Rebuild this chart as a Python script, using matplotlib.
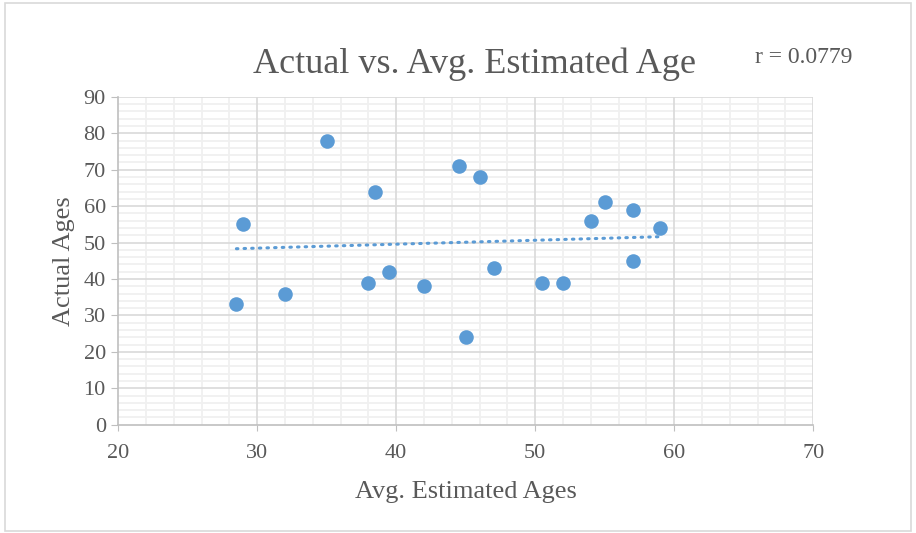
import matplotlib.pyplot as plt
import numpy as np
from matplotlib.ticker import MultipleLocator
from matplotlib.patches import Rectangle

# average estimated age vs. actual age for each person
est_ages = [28.5, 29, 32, 35, 38.5, 38, 39.5, 42, 44.5, 45, 46, 47, 50.5, 52, 54, 55, 57, 57, 59]
actual_ages = [33, 55, 36, 78, 64, 39, 42, 38, 71, 24, 68, 43, 39, 39, 56, 61, 59, 45, 54]

# linear trendline as shown on the chart (ends at min / max estimate)
trend_x = [28.5, 59]
trend_y = [48.3, 51.6]
r_text = "r = 0.0779"

blue = "#5B9BD5"
grey_text = "#595959"

plt.rcParams["font.family"] = ["Liberation Serif", "DejaVu Serif"]

fig = plt.figure(figsize=(9.16, 5.33), dpi=100)
ax = fig.add_axes([0.1291, 0.2032, 0.7587, 0.6152])

# chart border
fig.patches.append(Rectangle((0.005, 0.004), 0.99, 0.99, transform=fig.transFigure,
                             fill=False, edgecolor="#D9D9D9", linewidth=1.2))

ax.scatter(est_ages, actual_ages, s=110, color=blue, zorder=4, linewidths=0)

ax.plot(trend_x, trend_y, color=blue, linewidth=2.2, linestyle=(0, (0.5, 2.0)),
        dash_capstyle="round", zorder=3)

ax.set_xlim(20, 70)
ax.set_ylim(0, 90)
ax.xaxis.set_major_locator(MultipleLocator(10))
ax.xaxis.set_minor_locator(MultipleLocator(2))
ax.yaxis.set_major_locator(MultipleLocator(10))
ax.yaxis.set_minor_locator(MultipleLocator(2))

# light minor grid below, darker major lines drawn on top of it
ax.grid(which="minor", color="#F0F0F0", linewidth=1.3)
ax.set_axisbelow(True)
for xv in ax.get_xticks():
    if 20 < xv <= 70:
        ax.axvline(xv, color="#D9D9D9", linewidth=1.2, zorder=1)
for yv in ax.get_yticks():
    if 0 < yv <= 90:
        ax.axhline(yv, color="#D9D9D9", linewidth=1.2, zorder=1)

for side in ["top", "right"]:
    ax.spines[side].set_visible(False)
for side in ["left", "bottom"]:
    ax.spines[side].set_color("#BFBFBF")
    ax.spines[side].set_linewidth(1.2)
    ax.spines[side].set_zorder(2)

ax.tick_params(which="major", axis="y", length=5, color="#BFBFBF", labelsize=16,
               labelcolor=grey_text, pad=4)
ax.tick_params(which="major", axis="x", length=4, color="#BFBFBF", labelsize=16,
               labelcolor=grey_text, pad=10)
ax.tick_params(which="minor", length=0)

ax.set_xlabel("Avg. Estimated Ages", fontsize=19, color=grey_text, labelpad=13)
ax.set_ylabel("Actual Ages", fontsize=19, color=grey_text, labelpad=6)

fig.text(0.518, 0.879, "Actual vs. Avg. Estimated Age", fontsize=26, color=grey_text,
         ha="center", va="center")
fig.text(0.877, 0.893, r_text, fontsize=17, color=grey_text, ha="center", va="center")

fig.savefig("out.png", dpi=100)
